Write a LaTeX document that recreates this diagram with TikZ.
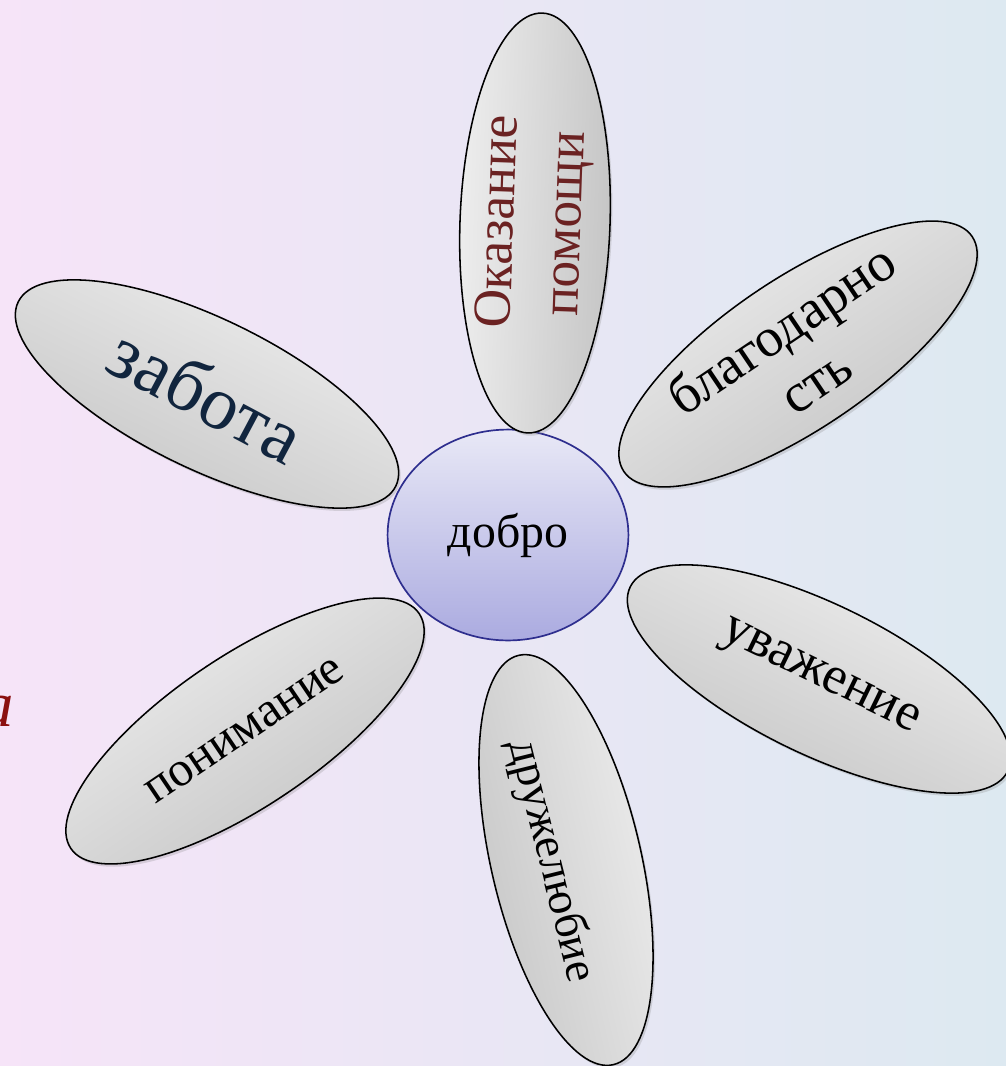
\documentclass[tikz,border=0pt]{standalone}
\usepackage{fontspec}
\setmainfont{Liberation Serif}
\usetikzlibrary{shapes.geometric,shadows}
\definecolor{petalhi}{HTML}{EFEFEF}
\definecolor{petallo}{HTML}{C4C4C4}
\definecolor{corehi}{HTML}{E8E8F6}
\definecolor{corelo}{HTML}{ABABE0}
\definecolor{coreline}{HTML}{2E2E8E}
\definecolor{bgleft}{HTML}{F6E4F8}
\definecolor{bgright}{HTML}{DDE9F1}
\definecolor{helpred}{HTML}{6B2222}
\definecolor{carenavy}{HTML}{11253E}
\definecolor{fragred}{HTML}{8B1010}
\begin{document}
\begin{tikzpicture}[x=0.025cm, y=-0.025cm,
  petal/.style={ellipse,draw=black,line width=1.1pt,top color=petalhi,bottom color=petallo,
    shading angle=#1,rotate=#1,
    minimum width=10.5cm,minimum height=3.75cm,inner sep=0pt,
    drop shadow={shadow xshift=1.5pt,shadow yshift=-2pt,opacity=0.25}},
  word/.style={inner sep=0pt,align=center},
  core/.style={ellipse,draw=coreline,line width=1.2pt,top color=corehi,bottom color=corelo,
    minimum width=6.02cm,minimum height=5.27cm,inner sep=0pt}]
\useasboundingbox (0,0) rectangle (1006,1066);
\shade[left color=bgleft,right color=bgright] (0,0) rectangle (1006,1066);
\node[text=fragred,anchor=east,inner sep=0pt,font=\fontsize{46}{50}\selectfont\itshape] (frag) at (14,712) {а};
% centre
\node[core,font=\fontsize{34}{38}\selectfont] (dobro) at (508,535) {добро};
% petals
\node[petal=88] (help) at (535,223) {};
\node[word,rotate=88,text=helpred,font=\fontsize{38}{48}\selectfont] (helptext) at (help.center) {Оказание\\помощи};
\node[petal=34] (thanks) at (798,354) {};
\node[word,rotate=34,font=\fontsize{39}{44}\selectfont] (thankstext) at (thanks.center) {благодарно\\сть};
\node[petal=-26] (care) at (207,394) {};
\node[word,rotate=-28,text=carenavy,font=\fontsize{54}{60}\selectfont] (caretext) at (care.center) {забота};
\node[petal=-26] (respect) at (819,679) {};
\node[word,rotate=-26,font=\fontsize{38}{40}\selectfont] (respecttext) at (respect.center) {уважение};
\node[petal=34] (underst) at (245,731) {};
\node[word,rotate=34,font=\fontsize{35}{40}\selectfont] (understtext) at (underst.center) {понимание};
\node[petal=-77] (friend) at (566,860) {};
\node[word,rotate=-76,font=\fontsize{33}{38}\selectfont] (friendtext) at (551,861) {дружелюбие};
\end{tikzpicture}
\end{document}
